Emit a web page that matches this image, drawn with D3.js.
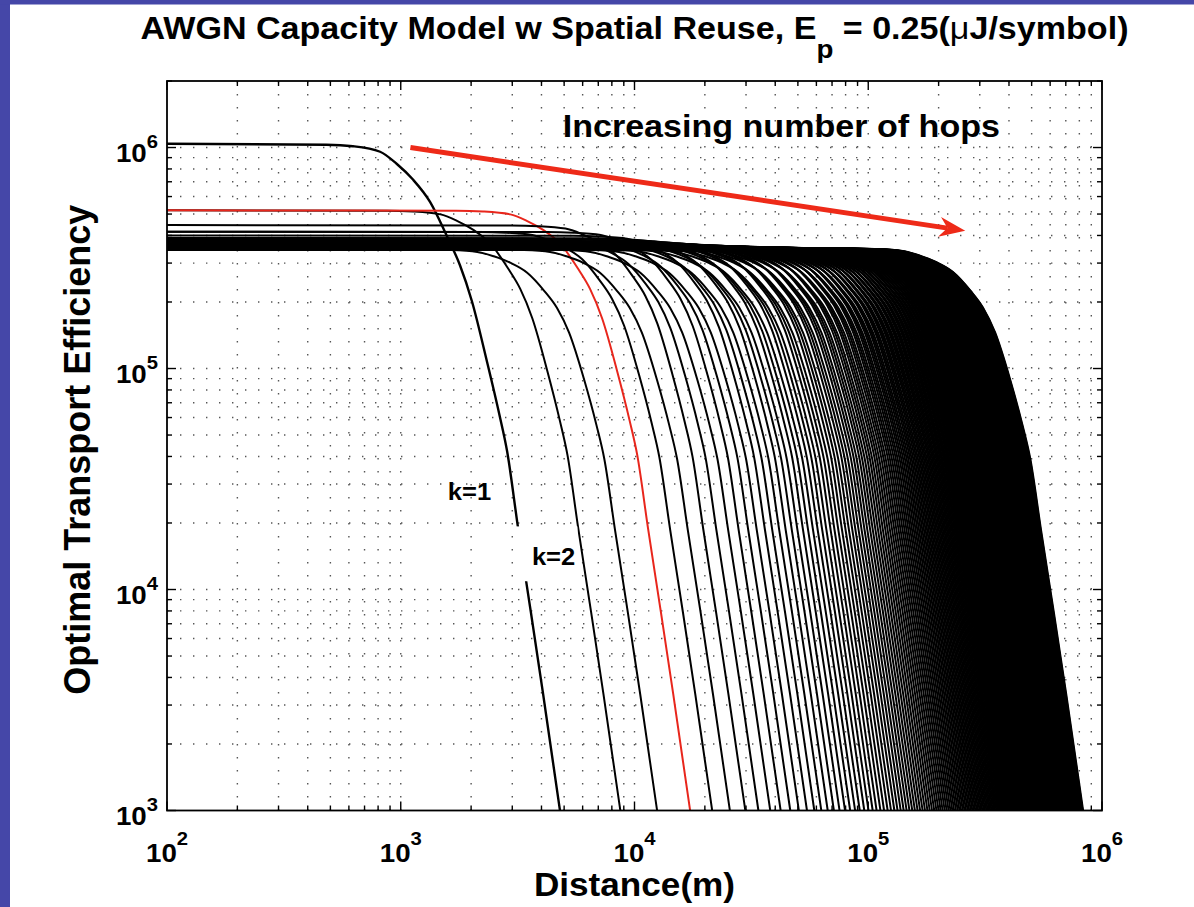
<!DOCTYPE html>
<html>
<head>
<meta charset="utf-8">
<script src="https://cdn.jsdelivr.net/npm/d3@7"></script>
<style>
  body { margin: 0; background: #fff; }
  svg { display: block; }
  text { font-family: "Liberation Sans", Arial, Helvetica, sans-serif; font-weight: bold; fill: #000; white-space: pre; }
</style>
</head>
<body>
<svg id="chart" width="1194" height="907"></svg>
<script>
// ---- data ---------------------------------------------------------------
// Flat (short-range) transport efficiency of the k-hop route, k = 1..200, in units of 1e3
const plateauKilo = [
  1040, 520, 346.7, 520, 416, 346.7, 445.7, 390, 346.7, 416, 378.2, 346.7,
  400, 371.4, 346.7, 390, 367.1, 346.7, 383.2, 364, 346.7, 378.2, 361.7, 346.7,
  374.4, 360, 346.7, 371.4, 358.6, 346.7, 369, 357.5, 346.7, 367.1, 356.6, 346.7,
  365.4, 355.8, 346.7, 364, 355.1, 346.7, 362.8, 354.5, 346.7, 361.7, 354, 346.7,
  360.8, 353.6, 346.7, 360, 353.2, 346.7, 359.3, 352.9, 346.7, 358.6, 352.5, 346.7,
  358, 352.3, 346.7, 357.5, 352, 346.7, 357, 351.8, 346.7, 356.6, 351.5, 346.7,
  356.2, 351.4, 346.7, 355.8, 351.2, 346.7, 355.4, 351, 346.7, 355.1, 350.8, 346.7,
  354.8, 350.7, 346.7, 354.5, 350.6, 346.7, 354.3, 350.4, 346.7, 354, 350.3, 346.7,
  353.8, 350.2, 346.7, 353.6, 350.1, 346.7, 353.4, 350, 346.7, 353.2, 349.9, 346.7,
  353, 349.8, 346.7, 352.9, 349.7, 346.7, 352.7, 349.7, 346.7, 352.5, 349.6, 346.7,
  352.4, 349.5, 346.7, 352.3, 349.4, 346.7, 352.1, 349.4, 346.7, 352, 349.3, 346.7,
  351.9, 349.3, 346.7, 351.8, 349.2, 346.7, 351.7, 349.1, 346.7, 351.5, 349.1, 346.7,
  351.4, 349, 346.7, 351.4, 349, 346.7, 351.3, 348.9, 346.7, 351.2, 348.9, 346.7,
  351.1, 348.9, 346.7, 351, 348.8, 346.7, 350.9, 348.8, 346.7, 350.8, 348.7, 346.7,
  350.8, 348.7, 346.7, 350.7, 348.7, 346.7, 350.6, 348.6, 346.7, 350.6, 348.6, 346.7,
  350.5, 348.6, 346.7, 350.4, 348.5, 346.7, 350.4, 348.5, 346.7, 350.3, 348.5, 346.7,
  350.3, 348.5, 346.7, 350.2, 348.4, 346.7, 350.2, 348.4
];

// Distance at which each route falls to 1e3, in units of 100 m
const reachHm = [
  48, 87, 125, 173, 215, 256, 298, 339, 381, 422,
  464, 505, 547, 588, 630, 671, 713, 754, 796, 837,
  879, 920, 962, 1003, 1045, 1086, 1128, 1169, 1211, 1252,
  1294, 1335, 1377, 1418, 1460, 1501, 1543, 1584, 1626, 1667,
  1709, 1750, 1792, 1833, 1875, 1916, 1958, 1999, 2041, 2082,
  2124, 2165, 2207, 2248, 2290, 2331, 2373, 2414, 2456, 2497,
  2539, 2580, 2622, 2663, 2705, 2746, 2788, 2829, 2871, 2912,
  2954, 2995, 3037, 3078, 3120, 3161, 3203, 3244, 3286, 3327,
  3369, 3410, 3452, 3493, 3535, 3576, 3618, 3659, 3701, 3742,
  3784, 3825, 3867, 3908, 3950, 3991, 4033, 4074, 4116, 4157,
  4199, 4240, 4282, 4323, 4365, 4406, 4448, 4489, 4531, 4572,
  4614, 4655, 4697, 4738, 4780, 4821, 4863, 4904, 4946, 4987,
  5029, 5070, 5112, 5153, 5195, 5236, 5278, 5319, 5361, 5402,
  5444, 5485, 5527, 5568, 5610, 5651, 5693, 5734, 5776, 5817,
  5859, 5900, 5942, 5983, 6025, 6066, 6108, 6149, 6191, 6232,
  6274, 6315, 6357, 6398, 6440, 6481, 6523, 6564, 6606, 6647,
  6689, 6730, 6772, 6813, 6855, 6896, 6938, 6979, 7021, 7062,
  7104, 7145, 7187, 7228, 7270, 7311, 7353, 7394, 7436, 7477,
  7519, 7560, 7602, 7643, 7685, 7726, 7768, 7809, 7851, 7892,
  7934, 7975, 8017, 8058, 8100, 8141, 8183, 8224, 8266, 8307
];

// Shared roll-off of every route: distance as a fraction of its reach, and the
// range-limited efficiency at that distance
const tailRatio = [0.10, 0.13, 0.17, 0.20, 0.235, 0.278, 0.33, 0.373, 0.42, 0.487, 0.55, 0.594, 0.661, 0.75, 0.846, 1.0, 1.2];
const tailLevel = [1e8, 4e7, 1.2e7, 4.5e6, 2.3e6, 1.25e6, 6.3e5, 4.1e5, 2.5e5, 1.2e5, 6.6e4, 4.4e4, 1.95e4, 8.0e3, 3.4e3, 1.0e3, 2.5e2];

const highlightedHop = 4;
const xDomain = [1e2, 1e6];
const yDomain = [1e3, 2e6];
const xTickExponents = [2, 3, 4, 5, 6];
const yTickExponents = [3, 4, 5, 6];

const titleText = ["AWGN Capacity Model w Spatial Reuse, E", "p", " = 0.25(", "\u03bc", "J/symbol)"];
const xLabel = "Distance(m)";
const yLabel = "Optimal Transport Efficiency";
const arrowText = "Increasing number of hops";
const arrowFrom = [1100, 1.0e6];
const arrowTo = [2.6e5, 4.2e5];
const arrowTextAt = [3.66e5, 1.115e6];
const hopLabels = [
  { text: "k=1", at: [1590, 2.54e4] },
  { text: "k=2", at: [3640, 1.29e4], backing: [[3100, 1.93e4], [5700, 1.09e4]] }
];

// ---- layout -------------------------------------------------------------
const svg = d3.select("#chart");
const plot = { left: 167, right: 1102, top: 81, bottom: 810.5 };
const stretch = 1.065;

const x = d3.scaleLog().domain(xDomain).range([plot.left, plot.right]);
const y = d3.scaleLog().domain(yDomain).range([plot.bottom, plot.top]);

// slide frame
svg.append("rect").attr("x", 0).attr("y", 0).attr("width", 1194).attr("height", 907).attr("fill", "#fff");
svg.append("rect").attr("x", 0).attr("y", 0).attr("width", 10).attr("height", 907).attr("fill", "#4547a8");
svg.append("rect").attr("x", 0).attr("y", 0).attr("width", 1194).attr("height", 4.5).attr("fill", "#4547a8");

// tick values (decades and their 2..9 multiples)
const xMajor = xTickExponents.map(e => Math.pow(10, e));
const yMajor = yTickExponents.map(e => Math.pow(10, e));
const xMinor = [], yMinor = [];
xTickExponents.slice(0, -1).forEach(e => { for (let m = 2; m <= 9; m++) xMinor.push(m * Math.pow(10, e)); });
yTickExponents.forEach(e => { for (let m = 2; m <= 9; m++) { const v = m * Math.pow(10, e); if (v <= yDomain[1]) yMinor.push(v); } });

// dotted grid
const grid = svg.append("g").attr("stroke", "#555").attr("stroke-width", 1.4)
  .attr("stroke-dasharray", "1.4 11.6").attr("fill", "none");
xMajor.concat(xMinor).filter(v => v > xDomain[0] && v < xDomain[1]).forEach(v => {
  grid.append("line").attr("x1", x(v)).attr("x2", x(v)).attr("y1", plot.bottom).attr("y2", plot.top);
});
yMajor.concat(yMinor).filter(v => v > yDomain[0] && v < yDomain[1]).forEach(v => {
  grid.append("line").attr("x1", plot.left).attr("x2", plot.right).attr("y1", y(v)).attr("y2", y(v));
});

// routes
svg.append("clipPath").attr("id", "plotClip").append("rect")
  .attr("x", plot.left).attr("y", plot.top).attr("width", plot.right - plot.left).attr("height", plot.bottom - plot.top);

const routes = plateauKilo.map((p, i) => {
  const level = p * 1e3, reach = reachHm[i] * 100;
  const pts = [[xDomain[0], level]];
  tailRatio.forEach((r, j) => {
    const d = r * reach;
    if (d > xDomain[0]) pts.push([d, 1 / (1 / level + 1 / tailLevel[j])]);
  });
  return { hop: i + 1, pts };
});

const line = d3.line().x(p => x(p[0])).y(p => y(p[1])).curve(d3.curveMonotoneX);
const curveLayer = svg.append("g").attr("clip-path", "url(#plotClip)");
curveLayer.selectAll("path").data(routes).join("path")
  .attr("d", r => line(r.pts))
  .attr("fill", "none")
  .attr("stroke", r => r.hop === highlightedHop ? "#e8261c" : "#000")
  .attr("stroke-width", r => r.hop === 1 ? 2.4 : 2)
  .attr("stroke-linejoin", "round");

// axes box and inward ticks on all four sides
const axes = svg.append("g").attr("stroke", "#000").attr("fill", "none");
const tick = (v, len, horizontal) => {
  if (horizontal) {
    axes.append("line").attr("x1", x(v)).attr("x2", x(v)).attr("y1", plot.bottom).attr("y2", plot.bottom - len).attr("stroke-width", 1.4);
    axes.append("line").attr("x1", x(v)).attr("x2", x(v)).attr("y1", plot.top).attr("y2", plot.top + len).attr("stroke-width", 1.4);
  } else {
    axes.append("line").attr("x1", plot.left).attr("x2", plot.left + len).attr("y1", y(v)).attr("y2", y(v)).attr("stroke-width", 1.4);
    axes.append("line").attr("x1", plot.right).attr("x2", plot.right - len).attr("y1", y(v)).attr("y2", y(v)).attr("stroke-width", 1.4);
  }
};
xMajor.forEach(v => tick(v, 9, true));
xMinor.forEach(v => tick(v, 5, true));
yMajor.forEach(v => tick(v, 9, false));
yMinor.forEach(v => tick(v, 5, false));
axes.append("rect").attr("x", plot.left).attr("y", plot.top)
  .attr("width", plot.right - plot.left).attr("height", plot.bottom - plot.top).attr("stroke-width", 1.8);

// helper for horizontally widened text
const label = (px, py, anchor, size) => svg.append("g")
  .attr("transform", `translate(${px},${py}) scale(${stretch},1)`)
  .append("text").attr("text-anchor", anchor).style("font-size", size + "px");

// tick labels
xTickExponents.forEach(e => {
  const t = label(x(Math.pow(10, e)), 862, "middle", 26);
  t.append("tspan").text("10");
  t.append("tspan").attr("dy", -17).style("font-size", "19px").text(e);
});
yTickExponents.forEach(e => {
  const t = label(plot.left - 9, y(Math.pow(10, e)) + 14, "end", 26);
  t.append("tspan").text("10");
  t.append("tspan").attr("dy", -14).style("font-size", "19px").text(e);
});

// title
const title = label((plot.left + plot.right) / 2, 38.5, "middle", 32);
title.append("tspan").text(titleText[0]);
title.append("tspan").attr("dy", 19).style("font-size", "26px").text(titleText[1]);
title.append("tspan").attr("dy", -19).text(titleText[2]);
title.append("tspan").style("font-weight", "normal").text(titleText[3]);
title.append("tspan").text(titleText[4]);

// axis labels
label((plot.left + plot.right) / 2, 896, "middle", 33).text(xLabel);
svg.append("text").attr("transform", `translate(90,${(plot.top + plot.bottom) / 2 + 4}) rotate(-90)`)
  .attr("text-anchor", "middle").style("font-size", "36px").text(yLabel);

// hop-count annotation arrow
const p0 = [x(arrowFrom[0]), y(arrowFrom[1])];
const p1 = [x(arrowTo[0]), y(arrowTo[1])];
const len = Math.hypot(p1[0] - p0[0], p1[1] - p0[1]);
const u = [(p1[0] - p0[0]) / len, (p1[1] - p0[1]) / len];
const n = [-u[1], u[0]];
const headLen = 26, headHalf = 10, notch = 8;
const back = [p1[0] - headLen * u[0], p1[1] - headLen * u[1]];
const notchPt = [p1[0] - (headLen - notch) * u[0], p1[1] - (headLen - notch) * u[1]];
svg.append("line").attr("x1", p0[0]).attr("y1", p0[1]).attr("x2", notchPt[0]).attr("y2", notchPt[1])
  .attr("stroke", "#ee2a18").attr("stroke-width", 5);
svg.append("polygon").attr("fill", "#ee2a18").attr("points", [
  p1,
  [back[0] + headHalf * n[0], back[1] + headHalf * n[1]],
  notchPt,
  [back[0] - headHalf * n[0], back[1] - headHalf * n[1]]
].map(p => p.join(",")).join(" "));
label(x(arrowTextAt[0]), y(arrowTextAt[1]), "end", 32).text(arrowText);

// hop labels
hopLabels.forEach(h => {
  if (h.backing) {
    const [a, b] = h.backing;
    svg.append("rect").attr("x", x(a[0])).attr("y", y(a[1]))
      .attr("width", x(b[0]) - x(a[0])).attr("height", y(b[1]) - y(a[1])).attr("fill", "#fff");
  }
  label(x(h.at[0]), y(h.at[1]), "start", 24).text(h.text);
});
</script>
</body>
</html>
